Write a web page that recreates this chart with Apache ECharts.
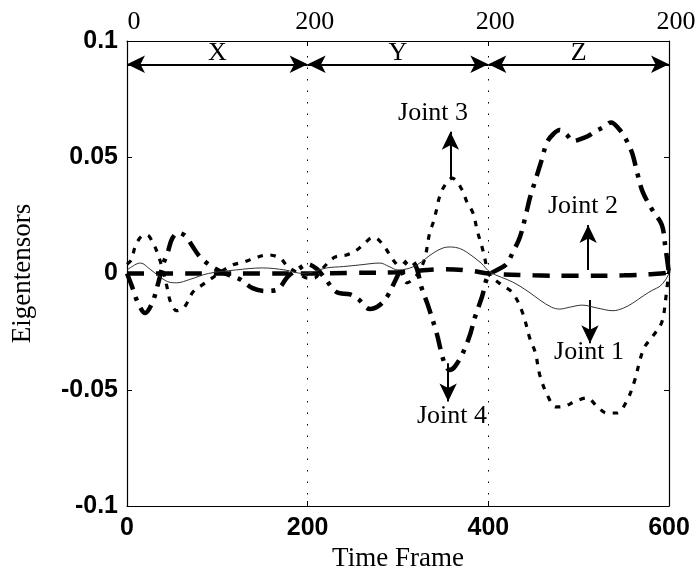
<!DOCTYPE html>
<html><head><meta charset="utf-8">
<script src="https://cdn.jsdelivr.net/npm/echarts@6/dist/echarts.min.js"></script>
<style>html,body{margin:0;padding:0;background:#fff}#c{width:698px;height:580px}</style>
</head><body><div id="c"></div>
<script>
// ---------- data ----------
const j1Frames = [0,10,15,25,35,45,55,70,90,120,150,175,195,221,240,258,280,290,300,310,321,339,350,359,368,376,392,402,427,445,457,470,479,490,504,520,538,550,560,572,582,590,596,600];
const j1Values = [0.0015,0.004,0.0045,0.002,-0.001,-0.0035,-0.004,-0.0025,0,0.0015,0.0024,0.0015,0,0.0024,0.003,0.0037,0.0045,0.003,0.0015,0.002,0.0037,0.0088,0.011,0.0114,0.0108,0.0092,0.0045,0.0006,-0.0037,-0.008,-0.0114,-0.0145,-0.0153,-0.0145,-0.0136,-0.0148,-0.016,-0.0148,-0.0127,-0.0095,-0.0071,-0.0055,-0.0028,0];

const j2Frames = [0,50,100,150,200,250,300,350,380,400,450,500,550,580,600];
const j2Values = [0,0,0,0,0,0.0003,0.0005,0.0018,0.0012,0,-0.0008,-0.001,-0.0008,-0.0003,0.0003];

const j3Frames = [0,5,9,16,22,29,34,40,45,48,55,62,66,73,83,94,105,117,130,144,156,169,178,190,200,207,217,230,243,254,263,272,277,286,293,302,310,318,325,330,335,339,343,346,352,360,371,376,383,388,393,396,400,405,415,427,438,446,452,457,465,475,485,496,509,521,531,542,553,562,568,573,582,592,596,600];
const j3Values = [0.004,0.006,0.0115,0.016,0.0165,0.013,0.0085,0.001,-0.007,-0.012,-0.016,-0.015,-0.013,-0.008,-0.005,-0.002,0.001,0.0037,0.005,0.007,0.008,0.0067,0.003,0,-0.002,-0.002,0.0024,0.007,0.008,0.01,0.013,0.0155,0.015,0.011,0.0067,0.002,-0.004,-0.002,0.002,0.007,0.0174,0.022,0.028,0.033,0.038,0.041,0.036,0.031,0.026,0.018,0.0114,0.0067,0,-0.002,-0.005,-0.0084,-0.017,-0.028,-0.034,-0.0437,-0.052,-0.0574,-0.057,-0.055,-0.0535,-0.0574,-0.06,-0.06,-0.055,-0.046,-0.037,-0.0316,-0.027,-0.021,-0.012,0.002];

const j4Frames = [0,5,12,20,28,35,40,45,50,57,65,72,80,90,103,115,125,139,153,166,178,190,200,210,219,232,247,256,269,280,289,297,305,313,320,326,333,343,348,352,357,363,372,380,385,393,400,412,420,427,435,442,446,452,459,465,472,479,486,494,499,510,518,528,536,545,551,559,565,571,582,592,596,600];
const j4Values = [0,-0.005,-0.0125,-0.017,-0.0125,-0.0035,0.004,0.009,0.015,0.0175,0.016,0.012,0.0075,0.004,0.001,-0.001,-0.0025,-0.0063,-0.0075,-0.007,-0.0013,0.002,0.004,0.002,-0.002,-0.008,-0.009,-0.011,-0.0153,-0.0135,-0.0093,-0.003,0.003,0.0058,0.003,-0.006,-0.0135,-0.026,-0.034,-0.039,-0.0415,-0.04,-0.034,-0.026,-0.019,-0.01,-0.001,0.002,0.004,0.009,0.0157,0.026,0.0325,0.04,0.0488,0.0565,0.06,0.0617,0.06,0.057,0.0574,0.059,0.061,0.063,0.065,0.062,0.0587,0.052,0.043,0.035,0.027,0.021,0.0114,0];

const xTicks = [0, 200, 400, 600];
const yTicks = [-0.1, -0.05, 0, 0.05, 0.1];
const topTickLabels = ['0', '200', '200', '200'];
const segmentNames = ['X', 'Y', 'Z'];
const jointNames = ['Joint 1', 'Joint 2', 'Joint 3', 'Joint 4'];

// ---------- annotation anchors (data units) ----------
const bracketLevel = 0.09;
const segmentTextLevel = 0.0946;
const jointArrowTail = [[512.5, -0.0114], [510.5, 0.0015], [358, 0.0411], [355.5, -0.0386]];
const jointArrowTip  = [[512.5, -0.030],  [510.5, 0.0209], [358, 0.061],  [355.5, -0.0551]];
const jointTextAt    = [[511.5, -0.0338], [504.8, 0.029],  [338.8, 0.069], [359.8, -0.0613]];

// ---------- build ----------
const zip = (xs, ys) => xs.map((x, i) => [x, ys[i]]);
const SERIF = "'Liberation Serif','Times New Roman',serif";
const SANS = "'Liberation Sans',Arial,sans-serif";

const bracketLines = segmentNames.map((n, i) => [
  { coord: [xTicks[i], bracketLevel], symbol: 'arrow' },
  { coord: [xTicks[i + 1], bracketLevel], symbol: 'arrow' }
]);
const dividerLines = [200, 400].map(v => ({ xAxis: v }));
const jointArrows = jointNames.map((n, i) => [
  { coord: jointArrowTail[i], symbol: 'none' },
  { coord: jointArrowTip[i], symbol: 'arrow' }
]);
const textPoints = jointNames.map((n, i) => ({ name: n, coord: jointTextAt[i] }))
  .concat(segmentNames.map((n, i) => ({ name: n, coord: [(xTicks[i] + xTicks[i + 1]) / 2, segmentTextLevel] })));

const chart = echarts.init(document.getElementById('c'), null, { renderer: 'canvas' });
const option = {
  animation: false,
  backgroundColor: '#fff',
  grid: { left: 127, right: 29, top: 41, bottom: 74, containLabel: false, outerBoundsMode: 'none' },
  xAxis: [{
    type: 'value', min: 0, max: 600, interval: 200, position: 'bottom',
    name: 'Time Frame', nameLocation: 'middle', nameGap: 39,
    nameTextStyle: { fontFamily: SERIF, fontSize: 27, color: '#000' },
    axisLine: { show: true, onZero: false, lineStyle: { color: '#000', width: 1.2 } },
    axisTick: { show: true, inside: true, length: 5, lineStyle: { color: '#000' } },
    axisLabel: { margin: 10, fontFamily: SANS, fontWeight: 'bold', fontSize: 25, color: '#000' },
    splitLine: { show: false }
  }, {
    type: 'value', min: 0, max: 600, interval: 200, position: 'top',
    axisLine: { show: true, onZero: false, lineStyle: { color: '#000', width: 1.2 } },
    axisTick: { show: true, inside: true, length: 5, lineStyle: { color: '#000' } },
    axisLabel: { margin: 6, fontFamily: SERIF, fontSize: 26, color: '#000', padding: [0, 0, 0, 14],
      formatter: v => topTickLabels[xTicks.indexOf(v)] },
    splitLine: { show: false }
  }],
  yAxis: [{
    type: 'value', min: -0.1, max: 0.1, interval: 0.05, position: 'left',
    name: 'Eigentensors', nameLocation: 'middle', nameGap: 91,
    nameTextStyle: { fontFamily: SERIF, fontSize: 27, color: '#000' },
    axisLine: { show: true, onZero: false, lineStyle: { color: '#000', width: 1.2 } },
    axisTick: { show: true, inside: true, length: 5, lineStyle: { color: '#000' } },
    axisLabel: { margin: 9, fontFamily: SANS, fontWeight: 'bold', fontSize: 25, color: '#000',
      formatter: v => { const t = yTicks.find(k => Math.abs(k - v) < 1e-9); return String(t === undefined ? v : t); } },
    splitLine: { show: false }
  }, {
    type: 'value', min: -0.1, max: 0.1, interval: 0.05, position: 'right',
    axisLine: { show: true, onZero: false, lineStyle: { color: '#000', width: 1.2 } },
    axisTick: { show: true, inside: true, length: 5, lineStyle: { color: '#000' } },
    axisLabel: { show: false }, splitLine: { show: false }
  }],
  series: [
    {
      name: jointNames[0], type: 'line', data: zip(j1Frames, j1Values), smooth: 0.35, showSymbol: false,
      lineStyle: { color: '#333', width: 1 }, z: 5,
      markLine: {
        silent: true, animation: false, symbol: 'none', label: { show: false },
        lineStyle: { color: '#000', width: 1, type: [1.5, 10] },
        data: dividerLines
      }
    },
    {
      name: jointNames[1], type: 'line', data: zip(j2Frames, j2Values), smooth: 0.35, showSymbol: false,
      lineStyle: { color: '#000', width: 4.5, type: [17, 12] }, z: 4,
      markLine: {
        silent: true, animation: false, label: { show: false },
        symbolSize: [13, 18],
        lineStyle: { color: '#000', width: 2, type: 'solid' },
        data: bracketLines.concat(jointArrows)
      }
    },
    {
      name: jointNames[2], type: 'line', data: zip(j3Frames, j3Values), smooth: 0.35, showSymbol: false,
      lineStyle: { color: '#000', width: 3.2, type: [5.5, 7.5] }, z: 4,
      markPoint: {
        silent: true, animation: false, symbol: 'circle', symbolSize: 1,
        itemStyle: { color: 'rgba(0,0,0,0)' },
        label: { show: true, position: 'inside', formatter: p => p.name, fontFamily: SERIF, fontSize: 26, color: '#000' },
        data: textPoints
      }
    },
    {
      name: jointNames[3], type: 'line', data: zip(j4Frames, j4Values), smooth: 0.35, showSymbol: false,
      lineStyle: { color: '#000', width: 4.5, type: [17, 8, 4, 8] }, z: 4
    }
  ]
};
chart.setOption(option);
</script></body></html>
